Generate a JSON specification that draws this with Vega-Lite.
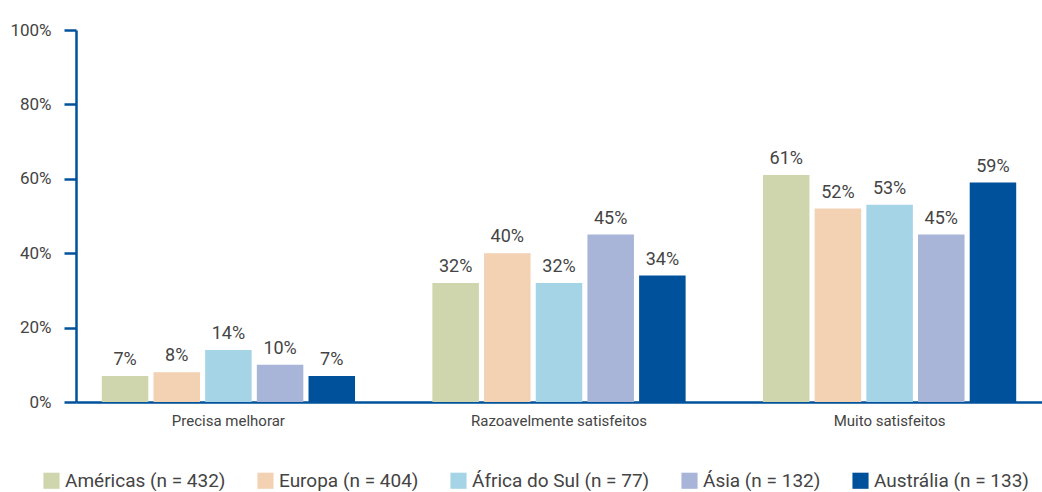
{
  "$schema": "https://vega.github.io/schema/vega-lite/v6.json",
  "autosize": {"type": "none"},
  "padding": {"left": 76, "top": 30, "right": 0, "bottom": 90},
  "width": 966,
  "height": 372,
  "background": "white",
  "config": {
    "view": {"stroke": null},
    "font": "Roboto",
    "text": {"font": "Roboto"}
  },
  "data": {
    "values": [
      {"categoria": "Precisa melhorar", "regiao": "Américas (n = 432)", "valor": 7, "rotulo": "7%"},
      {"categoria": "Precisa melhorar", "regiao": "Europa (n = 404)", "valor": 8, "rotulo": "8%"},
      {"categoria": "Precisa melhorar", "regiao": "África do Sul (n = 77)", "valor": 14, "rotulo": "14%"},
      {"categoria": "Precisa melhorar", "regiao": "Ásia (n = 132)", "valor": 10, "rotulo": "10%"},
      {"categoria": "Precisa melhorar", "regiao": "Austrália (n = 133)", "valor": 7, "rotulo": "7%"},
      {"categoria": "Razoavelmente satisfeitos", "regiao": "Américas (n = 432)", "valor": 32, "rotulo": "32%"},
      {"categoria": "Razoavelmente satisfeitos", "regiao": "Europa (n = 404)", "valor": 40, "rotulo": "40%"},
      {"categoria": "Razoavelmente satisfeitos", "regiao": "África do Sul (n = 77)", "valor": 32, "rotulo": "32%"},
      {"categoria": "Razoavelmente satisfeitos", "regiao": "Ásia (n = 132)", "valor": 45, "rotulo": "45%"},
      {"categoria": "Razoavelmente satisfeitos", "regiao": "Austrália (n = 133)", "valor": 34, "rotulo": "34%"},
      {"categoria": "Muito satisfeitos", "regiao": "Américas (n = 432)", "valor": 61, "rotulo": "61%"},
      {"categoria": "Muito satisfeitos", "regiao": "Europa (n = 404)", "valor": 52, "rotulo": "52%"},
      {"categoria": "Muito satisfeitos", "regiao": "África do Sul (n = 77)", "valor": 53, "rotulo": "53%"},
      {"categoria": "Muito satisfeitos", "regiao": "Ásia (n = 132)", "valor": 45, "rotulo": "45%"},
      {"categoria": "Muito satisfeitos", "regiao": "Austrália (n = 133)", "valor": 59, "rotulo": "59%"}
    ]
  },
  "encoding": {
    "x": {
      "field": "categoria",
      "type": "nominal",
      "sort": ["Precisa melhorar", "Razoavelmente satisfeitos", "Muito satisfeitos"],
      "scale": {"paddingInner": 0.234, "paddingOuter": 0.078},
      "axis": {
        "title": null,
        "labelAngle": 0,
        "ticks": false,
        "domainColor": "#00529b",
        "domainWidth": 2.5,
        "labelFont": "Roboto",
        "labelFontSize": 15,
        "labelColor": "#444444",
        "labelPadding": 11
      }
    },
    "xOffset": {
      "field": "regiao",
      "type": "nominal",
      "sort": ["Américas (n = 432)", "Europa (n = 404)", "África do Sul (n = 77)", "Ásia (n = 132)", "Austrália (n = 133)"],
      "scale": {"paddingInner": 0.1, "paddingOuter": 0}
    },
    "y": {
      "field": "valor",
      "type": "quantitative",
      "scale": {"domain": [0, 100], "nice": false},
      "axis": {
        "title": null,
        "values": [0, 20, 40, 60, 80, 100],
        "labelExpr": "datum.value + '%'",
        "grid": false,
        "domainColor": "#00529b",
        "domainWidth": 2.5,
        "tickColor": "#00529b",
        "tickWidth": 2.5,
        "tickSize": 12,
        "labelFont": "Roboto",
        "labelFontSize": 17,
        "labelColor": "#444444",
        "labelPadding": 13
      }
    }
  },
  "layer": [
    {
      "mark": {"type": "bar"},
      "encoding": {
        "color": {
          "field": "regiao",
          "type": "nominal",
          "sort": ["Américas (n = 432)", "Europa (n = 404)", "África do Sul (n = 77)", "Ásia (n = 132)", "Austrália (n = 133)"],
          "scale": {
            "domain": ["Américas (n = 432)", "Europa (n = 404)", "África do Sul (n = 77)", "Ásia (n = 132)", "Austrália (n = 133)"],
            "range": ["#cfd6ad", "#f3d1b3", "#a6d4e7", "#a9b5d8", "#00519b"]
          },
          "legend": {
            "title": null,
            "orient": "none",
            "direction": "horizontal",
            "legendX": -34,
            "legendY": 441,
            "symbolType": "square",
            "symbolSize": 260,
            "symbolStrokeWidth": 0,
            "labelFont": "Roboto",
            "labelFontSize": 19,
            "labelColor": "#444444",
            "labelOffset": 4,
            "columnPadding": 30,
            "padding": 0,
            "labelLimit": 400
          }
        }
      }
    },
    {
      "mark": {"type": "text", "baseline": "bottom", "dy": -7, "fontSize": 18, "color": "#444444", "font": "Roboto"},
      "encoding": {
        "text": {"field": "rotulo", "type": "nominal"}
      }
    }
  ]
}
